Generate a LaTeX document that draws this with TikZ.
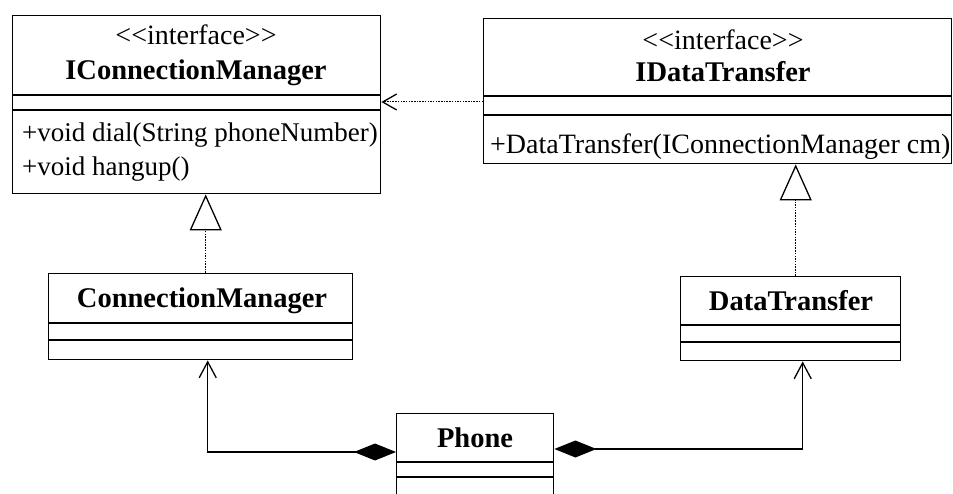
\documentclass[tikz,border=0pt]{standalone}
\usepackage{fontspec}
\setmainfont{Liberation Serif}
\usetikzlibrary{arrows.meta,calc}
\begin{document}
\begin{tikzpicture}[x=1pt,y=-1pt,
  cls/.style={draw, line width=1.4pt, rectangle, inner sep=0pt, anchor=north west},
  txt/.style={inner sep=0pt, font=\fontsize{27}{30}\selectfont},
  bname/.style={txt, anchor=base, font=\fontsize{28.5}{30}\selectfont\bfseries},
  stereo/.style={txt, anchor=base, font=\fontsize{28}{30}\selectfont},
  meth/.style={txt, anchor=base west},
  comp/.style={line width=1.3pt},
  realize/.style={line width=1pt, dash pattern=on 1.5pt off 1.2pt, -{Triangle[open, length=36pt, width=32pt, line width=1.3pt]}},
  depend/.style={line width=1pt, dash pattern=on 1.5pt off 1.2pt, -{Straight Barb[length=14pt, width=16pt, line width=1.3pt]}},
  compose/.style={line width=1.4pt, {Diamond[length=42pt, width=17pt]}-{Straight Barb[length=16pt, width=17pt, line width=1.3pt]}}
]
\clip (0,0) rectangle (953,494);
\fill[white] (0,0) rectangle (953,494);

% IConnectionManager
\node[cls, minimum width=368pt, minimum height=178pt] (icm) at (12,15) {};
\draw[comp] ([yshift=-80pt]icm.north west) -- ([yshift=-80pt]icm.north east);
\draw[comp] ([yshift=-95pt]icm.north west) -- ([yshift=-95pt]icm.north east);
\node[stereo] (icms) at (196,45) {<\kern0pt<interface>\kern0pt>};
\node[bname] (icmn) at (196,80) {IConnectionManager};
\node[meth] (icmm1) at (22,142) {+void dial(String phoneNumber)};
\node[meth] (icmm2) at (22,176) {+void hangup()};

% IDataTransfer
\node[cls, minimum width=468pt, minimum height=145pt] (idt) at (483,18) {};
\draw[comp] ([yshift=-78pt]idt.north west) -- ([yshift=-78pt]idt.north east);
\draw[comp] ([yshift=-97pt]idt.north west) -- ([yshift=-97pt]idt.north east);
\node[stereo] (idts) at (723,50) {<\kern0pt<interface>\kern0pt>};
\node[bname] (idtn) at (723,82) {IDataTransfer};
\node[meth, font=\fontsize{28}{30}\selectfont] (idtm1) at (490,154) {+DataTransfer(IConnectionManager cm)};

% ConnectionManager
\node[cls, minimum width=304pt, minimum height=86pt] (cm) at (48,273) {};
\draw[comp] ([yshift=-50pt]cm.north west) -- ([yshift=-50pt]cm.north east);
\draw[comp] ([yshift=-67pt]cm.north west) -- ([yshift=-67pt]cm.north east);
\node[bname] (cmn) at (202,308) {ConnectionManager};

% DataTransfer
\node[cls, minimum width=220pt, minimum height=84pt] (dt) at (680,276) {};
\draw[comp] ([yshift=-49pt]dt.north west) -- ([yshift=-49pt]dt.north east);
\draw[comp] ([yshift=-66pt]dt.north west) -- ([yshift=-66pt]dt.north east);
\node[bname] (dtn) at (791,310) {DataTransfer};

% Phone
\node[cls, minimum width=157pt, minimum height=110pt] (phone) at (396,413) {};
\draw[comp] ([yshift=-49pt]phone.north west) -- ([yshift=-49pt]phone.north east);
\draw[comp] ([yshift=-64pt]phone.north west) -- ([yshift=-64pt]phone.north east);
\node[bname] (phonen) at (475,447) {Phone};

% dependency IDataTransfer -> IConnectionManager
\draw[depend] ([yshift=-84pt]idt.north west) -- ([yshift=-84pt]idt.north west -| icm.east);

% realizations
\draw[realize] ([xshift=5pt]cm.north) -- ([xshift=5pt]cm.north |- icm.south);
\draw[realize] ([xshift=5pt]dt.north) -- ([xshift=5pt]dt.north |- idt.south);

% compositions
\draw[compose] ([yshift=-39pt]phone.north west) -| ([xshift=7pt]cm.south);
\draw[compose] ([yshift=-36pt]phone.north east) -| ([xshift=12pt]dt.south);
\end{tikzpicture}
\end{document}
